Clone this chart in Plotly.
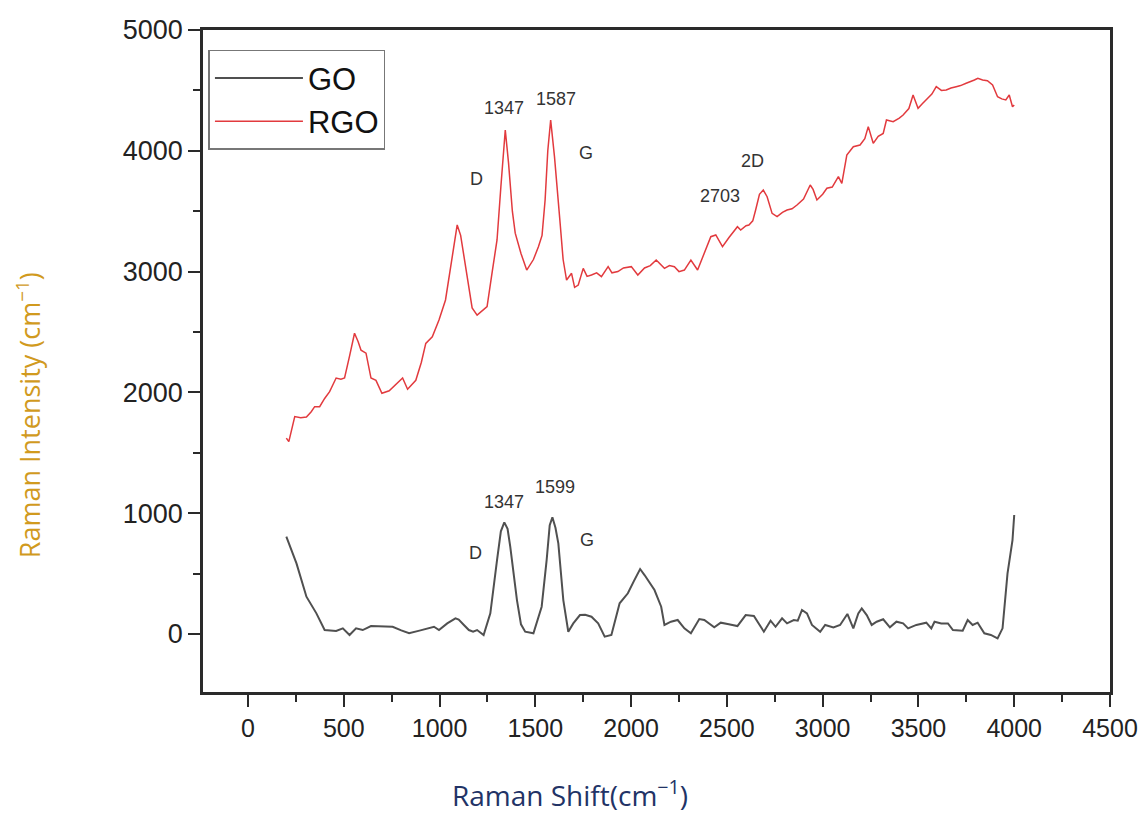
import plotly.graph_objects as go

# ---- data ----
rgo_x = [200, 213, 244, 275, 305, 330, 348, 374, 400, 426, 445, 460, 485, 504, 530, 556, 575, 590, 616, 642,
         668, 699, 737, 770, 807, 833, 876, 905, 928, 962, 997, 1031, 1060, 1092, 1110, 1140, 1170, 1196, 1225, 1248,
         1275, 1300, 1320, 1343, 1360, 1380, 1395, 1425, 1455, 1490, 1516, 1535, 1551, 1565, 1580, 1600, 1628, 1645,
         1663, 1689, 1705, 1724, 1750, 1770, 1793, 1820, 1845, 1880, 1900, 1931, 1960, 2001, 2035, 2070, 2100, 2131,
         2174, 2200, 2226, 2250, 2278, 2312, 2347, 2382, 2416, 2442, 2477, 2510, 2555, 2572, 2600, 2615, 2635, 2650,
         2670, 2690, 2710, 2736, 2762, 2790, 2814, 2840, 2866, 2900, 2935, 2950, 2970, 3000, 3022, 3050, 3082, 3100,
         3126, 3160, 3195, 3220, 3238, 3264, 3290, 3316, 3333, 3368, 3400, 3420, 3450, 3472, 3498, 3520, 3541, 3570,
         3593, 3620, 3645, 3670, 3697, 3720, 3749, 3770, 3792, 3810, 3835, 3860, 3887, 3913, 3935, 3956, 3974, 3991,
         4000]
rgo_y = [1622, 1592, 1800, 1790, 1796, 1840, 1882, 1882, 1950, 2006, 2070, 2119, 2110, 2119, 2300, 2490, 2420, 2350, 2325, 2119,
         2100, 1993, 2014, 2060, 2119, 2026, 2100, 2250, 2406, 2461, 2600, 2765, 3050, 3386, 3300, 2980, 2700, 2640, 2680, 2710,
         3000, 3262, 3700, 4172, 3900, 3500, 3318, 3150, 3013, 3100, 3206, 3300, 3593, 4000, 4255, 3950, 3427, 3100,
         2930, 2986, 2870, 2889, 3027, 2960, 2972, 2990, 2958, 3041, 2990, 3000, 3030, 3041, 2972, 3030, 3050, 3096,
         3027, 3050, 3041, 3000, 3013, 3096, 3013, 3151, 3289, 3303, 3206, 3280, 3372, 3344, 3380, 3386, 3420, 3510,
         3640, 3675, 3620, 3482, 3455, 3490, 3510, 3520, 3551, 3600, 3717, 3680, 3593, 3640, 3690, 3700, 3786, 3730,
         3965, 4034, 4048, 4100, 4200, 4062, 4120, 4144, 4255, 4241, 4270, 4296, 4350, 4462, 4352, 4390, 4421, 4470,
         4531, 4500, 4503, 4520, 4531, 4540, 4559, 4570, 4586, 4600, 4586, 4580, 4545, 4448, 4430, 4421, 4462, 4365,
         4380]

go_x = [200, 253, 305, 357, 400, 430, 460, 495, 530, 564, 599, 642, 700, 755, 800, 841, 900, 945, 971, 997,
        1040, 1083, 1100, 1127, 1153, 1175, 1196, 1230, 1265, 1300, 1320, 1338, 1355, 1369, 1404, 1425, 1447, 1490,
        1533, 1559, 1575, 1589, 1605, 1620, 1646, 1672, 1698, 1733, 1760, 1793, 1828, 1862, 1897, 1940, 1983, 2015,
        2047, 2070, 2095, 2122, 2157, 2174, 2208, 2243, 2278, 2312, 2356, 2382, 2434, 2468, 2510, 2555, 2598, 2641,
        2693, 2728, 2754, 2788, 2814, 2849, 2870, 2892, 2918, 2944, 2987, 3013, 3056, 3091, 3129, 3160, 3186, 3204,
        3230, 3256, 3282, 3316, 3351, 3385, 3420, 3446, 3489, 3541, 3567, 3584, 3619, 3654, 3680, 3731, 3757, 3783,
        3809, 3844, 3878, 3913, 3939, 3965, 3991, 4000]
go_y = [806, 585, 309, 171, 33, 30, 25, 47, -8, 47, 33, 66, 65, 60, 30, 6, 30, 47, 60, 33,
        88, 130, 120, 75, 33, 19, 33, -8, 171, 612, 850, 924, 870, 723, 281, 80, 19, 6,
        226, 612, 900, 966, 880, 751, 281, 19, 88, 157, 160, 143, 88, -22, -8, 254, 337, 440,
        538, 488, 430, 364, 226, 75, 102, 116, 47, 6, 124, 116, 55, 94, 80, 66, 157, 149,
        19, 110, 60, 130, 88, 116, 110, 199, 171, 75, 19, 75, 55, 75, 166, 47, 171, 212,
        157, 75, 102, 122, 55, 102, 88, 47, 75, 94, 47, 102, 88, 88, 33, 28, 116, 75,
        94, 6, -8, -36, 47, 502, 778, 985]

label_text = ["1347", "1587", "D", "G", "2D", "2703", "1347", "1599", "D", "G"]
label_x = [1334, 1610, 1194, 1765, 2632, 2466, 1334, 1604, 1189, 1770]
label_y = [4354, 4429, 3767, 3982, 3916, 3626, 1093, 1217, 671, 778]

x_ticks = [0, 500, 1000, 1500, 2000, 2500, 3000, 3500, 4000, 4500]
y_ticks = [0, 1000, 2000, 3000, 4000, 5000]

x_title = "Raman Shift(cm<sup>−1</sup>)"
y_title = "Raman Intensity (cm<sup>−1</sup>)"

fig = go.Figure()
fig.add_trace(go.Scatter(x=go_x, y=go_y, mode="lines", name="GO",
                         line=dict(color="#505050", width=2)))
fig.add_trace(go.Scatter(x=rgo_x, y=rgo_y, mode="lines", name="RGO",
                         line=dict(color="#e23a3e", width=1.5)))

for t, xx, yy in zip(label_text, label_x, label_y):
    fig.add_annotation(x=xx, y=yy, text=t, showarrow=False, xref="x", yref="y",
                       font=dict(family="Liberation Sans, Arial", size=18, color="#333333"))

# axis titles (placed off-centre as in the reference)
fig.add_annotation(x=0.405, y=-0.154, xref="paper", yref="paper", text=x_title, showarrow=False,
                   xanchor="center", yanchor="middle",
                   font=dict(family="Open Sans, Liberation Sans", size=28, color="#223366"))
fig.add_annotation(x=-0.193, y=0.418, xref="paper", yref="paper", text=y_title, showarrow=False,
                   textangle=-90, xanchor="center", yanchor="middle",
                   font=dict(family="Open Sans, Liberation Sans", size=27, color="#d19a1e"))

axis_common = dict(showline=True, linecolor="#2a2a2a", linewidth=2.5, mirror=True,
                   ticks="outside", tickcolor="#2a2a2a", tickwidth=2, ticklen=12,
                   showgrid=False, zeroline=False, automargin=False)

fig.update_xaxes(range=[-235, 4500], tickvals=x_ticks,
                 minor=dict(dtick=250, tick0=0, ticks="outside", ticklen=7, tickwidth=2, tickcolor="#2a2a2a"),
                 tickfont=dict(family="Liberation Sans Narrow, Liberation Sans, Arial", size=25, color="#222222"),
                 **axis_common)
fig.update_yaxes(range=[-480, 5000], tickvals=y_ticks,
                 minor=dict(dtick=500, tick0=0, ticks="outside", ticklen=7, tickwidth=2, tickcolor="#2a2a2a"),
                 tickfont=dict(family="Liberation Sans, Arial", size=27, color="#222222"),
                 **axis_common)

fig.update_layout(
    width=1148, height=818,
    margin=dict(l=203, r=38, t=30, b=126),
    paper_bgcolor="white", plot_bgcolor="white",
    showlegend=True,
    legend=dict(x=0.006, y=0.97, xanchor="left", yanchor="top",
                bgcolor="white", bordercolor="#777777", borderwidth=1.5,
                itemwidth=88, tracegroupgap=0,
                font=dict(family="Liberation Sans, Arial", size=31, color="#111111")),
)

fig.write_html("out.html", config={"displayModeBar": False},
               post_script="document.body.style.margin='0';")
